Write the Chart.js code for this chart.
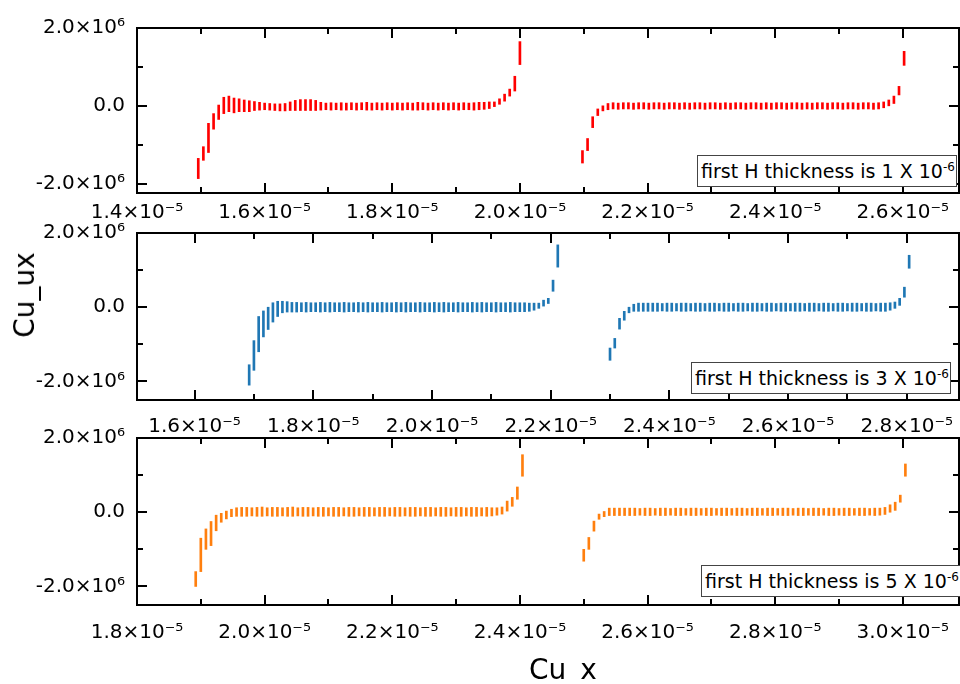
<!DOCTYPE html>
<html>
<head>
<meta charset="utf-8">
<script src="https://cdn.jsdelivr.net/npm/chart.js@4.4.1/dist/chart.umd.min.js"></script>
<style>
  body { margin: 0; background: #fff; }
  #wrap { position: relative; width: 960px; height: 684px; overflow: hidden; font-family: "DejaVu Sans", sans-serif; color: #000; }
  #wrap canvas { position: absolute; left: 0; }
  .box { position: absolute; left: 136px; width: 824px; box-sizing: border-box; border: 2px solid #000; pointer-events: none; }
  .note { position: absolute; box-sizing: border-box; height: 32px; padding: 1px 0 0 3px; border: 1px solid #444; background: #fff;
          font-size: 19px; line-height: 29px; white-space: nowrap; }
  .note sup { font-size: 12px; vertical-align: 7px; line-height: 0; }
  .axis-title { position: absolute; font-size: 28px; line-height: 28px; white-space: nowrap; }
</style>
</head>
<body>
<div id="wrap">
  <canvas id="p1" width="1000" height="230" style="top:0"></canvas>
  <canvas id="p2" width="1000" height="235" style="top:205px"></canvas>
  <canvas id="p3" width="1000" height="274" style="top:410px"></canvas>
  <div class="box" style="top:27px;height:167px"></div>
  <div class="box" style="top:232px;height:169px"></div>
  <div class="box" style="top:437px;height:169px"></div>
  <div class="note" style="left:697px;top:155px;width:260px">first H thickness is 1 X 10<sup>-6</sup></div>
  <div class="note" style="left:691px;top:362px;width:260px">first H thickness is 3 X 10<sup>-6</sup></div>
  <div class="note" style="left:701px;top:565px;width:262px">first H thickness is 5 X 10<sup>-6</sup></div>
  <div class="axis-title" style="left:25px;top:295px;transform:translate(-50%,-50%) rotate(-90deg)">Cu_ux</div>
  <div class="axis-title" style="left:529px;top:656px">Cu_x</div>
</div>
<script>
// element pitch along Cu_x (×10⁻⁵) – same mesh in all three runs
const dashOffsets = [
  0, .008, .016, .024, .032, .040, .048, .056, .064, .072,
  .080, .088, .096, .104, .112, .120, .128, .136, .144, .152,
  .160, .168, .176, .184, .192, .200, .208, .216, .224, .232,
  .240, .248, .256, .264, .272, .280, .288, .296, .304, .312,
  .320, .328, .336, .344, .352, .360, .368, .376, .384, .392,
  .400, .408, .416, .424, .432, .440, .448, .456, .464, .472,
  .480, .488, .496, .504, .512, .520
];

// first element of each H block (×10⁻⁵)
const start1 = [1.496, 2.098];
const start2 = [1.692, 2.300];
const start3 = [1.892, 2.500];

// Cu_ux range inside each element, low / high (×10⁶)
const lo1a = [
  -1.87, -1.40, -1.20, -0.60, -0.35, -0.20, -0.15, -0.18, -0.15, -0.15,
  -0.15, -0.12, -0.11, -0.10, -0.11, -0.12, -0.13, -0.13, -0.12, -0.12,
  -0.12, -0.12, -0.12, -0.12, -0.11, -0.10, -0.11, -0.10, -0.11, -0.11,
  -0.10, -0.11, -0.10, -0.11, -0.11, -0.10, -0.11, -0.10, -0.11, -0.10,
  -0.11, -0.10, -0.11, -0.11, -0.10, -0.11, -0.10, -0.11, -0.10, -0.11,
  -0.10, -0.11, -0.10, -0.10, -0.11, -0.10, -0.09, -0.07, -0.02, 0.04,
  0.12, 0.25, 0.38, 1.06
];
const hi1a = [
  -1.35, -1.05, -0.45, -0.20, 0.02, 0.22, 0.25, 0.20, 0.18, 0.15,
  0.13, 0.11, 0.09, 0.07, 0.06, 0.05, 0.05, 0.06, 0.10, 0.14,
  0.16, 0.16, 0.16, 0.14, 0.09, 0.07, 0.08, 0.07, 0.08, 0.07,
  0.08, 0.07, 0.08, 0.09, 0.07, 0.08, 0.07, 0.08, 0.07, 0.08,
  0.07, 0.08, 0.07, 0.09, 0.08, 0.07, 0.08, 0.07, 0.08, 0.07,
  0.08, 0.07, 0.08, 0.07, 0.08, 0.09, 0.09, 0.10, 0.10, 0.18,
  0.30, 0.43, 0.76, 1.65
];
const lo1b = [
  -1.47, -1.15, -0.56, -0.25, -0.13, -0.10, -0.08, -0.09, -0.08, -0.08,
  -0.09, -0.08, -0.08, -0.09, -0.08, -0.08, -0.09, -0.08, -0.08, -0.09,
  -0.08, -0.09, -0.08, -0.08, -0.09, -0.08, -0.08, -0.09, -0.08, -0.09,
  -0.08, -0.08, -0.09, -0.08, -0.08, -0.09, -0.08, -0.09, -0.08, -0.08,
  -0.09, -0.08, -0.08, -0.09, -0.08, -0.09, -0.08, -0.08, -0.09, -0.08,
  -0.08, -0.09, -0.08, -0.08, -0.09, -0.08, -0.08, -0.09, -0.08, -0.05,
  0.00, 0.06, 0.28, 1.04
];
const hi1b = [
  -1.15, -0.84, -0.28, -0.08, 0.00, 0.06, 0.08, 0.07, 0.08, 0.08,
  0.07, 0.08, 0.08, 0.07, 0.08, 0.08, 0.07, 0.08, 0.08, 0.07,
  0.08, 0.07, 0.08, 0.08, 0.07, 0.08, 0.08, 0.07, 0.08, 0.07,
  0.08, 0.08, 0.07, 0.08, 0.08, 0.07, 0.08, 0.07, 0.08, 0.08,
  0.07, 0.08, 0.08, 0.07, 0.08, 0.07, 0.08, 0.08, 0.07, 0.08,
  0.08, 0.07, 0.08, 0.08, 0.07, 0.08, 0.08, 0.07, 0.08, 0.10,
  0.15, 0.25, 0.50, 1.40
];

const lo2a = [
  -2.10, -1.70, -1.20, -0.80, -0.60, -0.40, -0.25, -0.15, -0.13, -0.13,
  -0.13, -0.12, -0.13, -0.12, -0.12, -0.13, -0.12, -0.13, -0.12, -0.12,
  -0.13, -0.12, -0.12, -0.13, -0.12, -0.13, -0.12, -0.12, -0.13, -0.12,
  -0.12, -0.13, -0.12, -0.13, -0.12, -0.12, -0.13, -0.12, -0.12, -0.13,
  -0.12, -0.13, -0.12, -0.12, -0.13, -0.12, -0.12, -0.13, -0.12, -0.13,
  -0.12, -0.12, -0.13, -0.12, -0.12, -0.13, -0.12, -0.12, -0.12, -0.11,
  -0.08, -0.03, 0.03, 0.10, 0.43, 1.08
];
const hi2a = [
  -1.55, -0.90, -0.25, -0.10, 0.00, 0.12, 0.16, 0.16, 0.15, 0.13,
  0.13, 0.12, 0.13, 0.12, 0.12, 0.13, 0.12, 0.13, 0.12, 0.12,
  0.13, 0.12, 0.12, 0.13, 0.12, 0.13, 0.12, 0.12, 0.13, 0.12,
  0.12, 0.13, 0.12, 0.13, 0.12, 0.12, 0.13, 0.12, 0.12, 0.13,
  0.12, 0.13, 0.12, 0.12, 0.13, 0.12, 0.12, 0.13, 0.12, 0.13,
  0.12, 0.12, 0.13, 0.12, 0.12, 0.13, 0.12, 0.12, 0.12, 0.11,
  0.11, 0.11, 0.19, 0.24, 0.73, 1.68
];
const lo2b = [
  -1.43, -1.10, -0.59, -0.35, -0.15, -0.11, -0.11, -0.11, -0.11, -0.11,
  -0.11, -0.10, -0.11, -0.11, -0.10, -0.11, -0.11, -0.10, -0.11, -0.11,
  -0.10, -0.11, -0.11, -0.10, -0.11, -0.11, -0.10, -0.11, -0.11, -0.10,
  -0.11, -0.11, -0.10, -0.11, -0.11, -0.10, -0.11, -0.11, -0.10, -0.11,
  -0.11, -0.10, -0.11, -0.11, -0.10, -0.11, -0.11, -0.10, -0.11, -0.11,
  -0.10, -0.11, -0.11, -0.10, -0.11, -0.11, -0.10, -0.11, -0.11, -0.08,
  -0.03, 0.05, 0.27, 1.05
];
const hi2b = [
  -1.10, -0.84, -0.30, -0.11, 0.00, 0.08, 0.11, 0.11, 0.11, 0.11,
  0.11, 0.10, 0.11, 0.11, 0.10, 0.11, 0.11, 0.10, 0.11, 0.11,
  0.10, 0.11, 0.11, 0.10, 0.11, 0.11, 0.10, 0.11, 0.11, 0.10,
  0.11, 0.11, 0.10, 0.11, 0.11, 0.10, 0.11, 0.11, 0.10, 0.11,
  0.11, 0.10, 0.11, 0.11, 0.10, 0.11, 0.11, 0.10, 0.11, 0.11,
  0.10, 0.11, 0.11, 0.10, 0.11, 0.11, 0.10, 0.11, 0.11, 0.12,
  0.14, 0.24, 0.54, 1.40
];

const lo3a = [
  -2.00, -1.60, -1.00, -0.90, -0.50, -0.27, -0.18, -0.12, -0.11, -0.11,
  -0.11, -0.10, -0.11, -0.11, -0.10, -0.11, -0.11, -0.10, -0.11, -0.11,
  -0.10, -0.11, -0.11, -0.10, -0.11, -0.11, -0.10, -0.11, -0.11, -0.10,
  -0.11, -0.11, -0.10, -0.11, -0.11, -0.10, -0.11, -0.11, -0.10, -0.11,
  -0.11, -0.10, -0.11, -0.11, -0.10, -0.11, -0.11, -0.10, -0.11, -0.11,
  -0.10, -0.11, -0.11, -0.10, -0.11, -0.11, -0.10, -0.11, -0.10, -0.08,
  -0.05, 0.03, 0.16, 0.35, 0.97
];
const hi3a = [
  -1.60, -0.70, -0.45, -0.25, -0.08, -0.03, 0.03, 0.08, 0.12, 0.13,
  0.13, 0.12, 0.13, 0.14, 0.12, 0.13, 0.13, 0.12, 0.13, 0.14,
  0.12, 0.13, 0.13, 0.12, 0.13, 0.13, 0.12, 0.13, 0.13, 0.12,
  0.13, 0.13, 0.12, 0.13, 0.13, 0.12, 0.13, 0.13, 0.12, 0.13,
  0.13, 0.12, 0.13, 0.13, 0.12, 0.13, 0.13, 0.12, 0.13, 0.13,
  0.12, 0.13, 0.13, 0.12, 0.13, 0.13, 0.12, 0.13, 0.12, 0.12,
  0.14, 0.30, 0.40, 0.68, 1.55
];
const lo3b = [
  -1.32, -1.00, -0.51, -0.19, -0.12, -0.09, -0.09, -0.09, -0.09, -0.09,
  -0.09, -0.08, -0.09, -0.09, -0.08, -0.09, -0.09, -0.08, -0.09, -0.09,
  -0.08, -0.09, -0.09, -0.08, -0.09, -0.09, -0.08, -0.09, -0.09, -0.08,
  -0.09, -0.09, -0.08, -0.09, -0.09, -0.08, -0.09, -0.09, -0.08, -0.09,
  -0.09, -0.08, -0.09, -0.09, -0.08, -0.09, -0.09, -0.08, -0.09, -0.09,
  -0.08, -0.09, -0.09, -0.08, -0.09, -0.09, -0.08, -0.09, -0.08, -0.06,
  0.00, 0.05, 0.27, 0.97
];
const hi3b = [
  -1.00, -0.68, -0.24, -0.05, 0.02, 0.11, 0.11, 0.11, 0.11, 0.11,
  0.11, 0.10, 0.11, 0.11, 0.10, 0.11, 0.11, 0.10, 0.11, 0.11,
  0.10, 0.11, 0.11, 0.10, 0.11, 0.11, 0.10, 0.11, 0.11, 0.10,
  0.11, 0.11, 0.10, 0.11, 0.11, 0.10, 0.11, 0.11, 0.10, 0.11,
  0.11, 0.10, 0.11, 0.11, 0.10, 0.11, 0.11, 0.10, 0.11, 0.11,
  0.10, 0.11, 0.11, 0.10, 0.11, 0.11, 0.10, 0.11, 0.11, 0.13,
  0.20, 0.27, 0.46, 1.30
];

// axis ranges (x ×10⁻⁵, y ×10⁶)
const xRange = [[1.4, 2.688], [1.503, 2.888], [1.8, 3.088]];
const yRange = [[-2.24, 2.0], [-2.5, 2.0], [-2.5, 2.0]];

const FONT = '"DejaVu Sans", sans-serif';

function block(start, lo, hi) {
  return lo.map((l, k) => ({ x: start + dashOffsets[k], y: [l, hi[k]] }));
}

// inward ticks on all four sides (major 10px, minor 6px)
const innerTicks = {
  id: 'innerTicks',
  afterDraw(chart) {
    try {
      const { ctx, chartArea: a, scales } = chart;
      ctx.save();
      ctx.strokeStyle = '#000';
      ctx.lineWidth = 2;
      ctx.strokeRect(a.left, a.top, a.right - a.left, a.bottom - a.top);
      ctx.beginPath();
      scales.x.ticks.forEach(t => {
        const px = Math.round(scales.x.getPixelForValue(t.value));
        const len = t.label ? 10 : 6;
        ctx.moveTo(px, a.bottom); ctx.lineTo(px, a.bottom - len);
        ctx.moveTo(px, a.top); ctx.lineTo(px, a.top + len);
      });
      scales.y.ticks.forEach(t => {
        const py = Math.round(scales.y.getPixelForValue(t.value));
        const len = t.label ? 10 : 6;
        ctx.moveTo(a.left, py); ctx.lineTo(a.left + len, py);
        ctx.moveTo(a.right, py); ctx.lineTo(a.right - len, py);
      });
      ctx.stroke();
      ctx.restore();
    } catch (e) {
      console.error(e);
    }
  }
};

// canvases are 1000 wide; right padding 41 puts the frame edge at x = 959
function makePanel(id, idx, color, blocks, axisHeight, labelPad) {
  new Chart(document.getElementById(id), {
    type: 'bar',
    data: {
      datasets: blocks.map(b => ({
        data: block(b[0], b[1], b[2]),
        backgroundColor: color,
        borderWidth: 0,
        barThickness: 2,
        grouped: false
      }))
    },
    options: {
      responsive: false,
      animation: false,
      events: [],
      layout: { padding: { top: 28, right: 41, left: 0, bottom: 0 } },
      plugins: { legend: { display: false }, tooltip: { enabled: false } },
      scales: {
        x: {
          type: 'linear',
          offset: false,
          min: xRange[idx][0],
          max: xRange[idx][1],
          grid: { display: false, drawTicks: false },
          border: { display: false },
          afterFit: s => { s.height = axisHeight; },
          ticks: {
            stepSize: 0.1,
            includeBounds: false,
            autoSkip: false,
            maxRotation: 0,
            padding: labelPad,
            color: '#000',
            font: { family: FONT, size: 20 },
            callback: v => Math.round(v * 10) % 2 === 0 ? v.toFixed(1) + '×10⁻⁵' : ''
          }
        },
        y: {
          min: yRange[idx][0],
          max: yRange[idx][1],
          grid: { display: false, drawTicks: false },
          border: { display: false },
          afterFit: s => { s.width = 137; },
          ticks: {
            stepSize: 1,
            includeBounds: false,
            padding: 12,
            color: '#000',
            font: { family: FONT, size: 20 },
            callback: v => {
              const n = Math.round(v);
              if (n % 2 !== 0) return '';
              return n === 0 ? '0.0' : n.toFixed(1) + '×10⁶';
            }
          }
        }
      }
    },
    plugins: [innerTicks]
  });
}

makePanel('p1', 0, '#ff0000', [[start1[0], lo1a, hi1a], [start1[1], lo1b, hi1b]], 37, 8);
makePanel('p2', 1, '#1f77b4', [[start2[0], lo2a, hi2a], [start2[1], lo2b, hi2b]], 40, 15);
makePanel('p3', 2, '#ff7f0e', [[start3[0], lo3a, hi3a], [start3[1], lo3b, hi3b]], 79, 16);
</script>
</body>
</html>
